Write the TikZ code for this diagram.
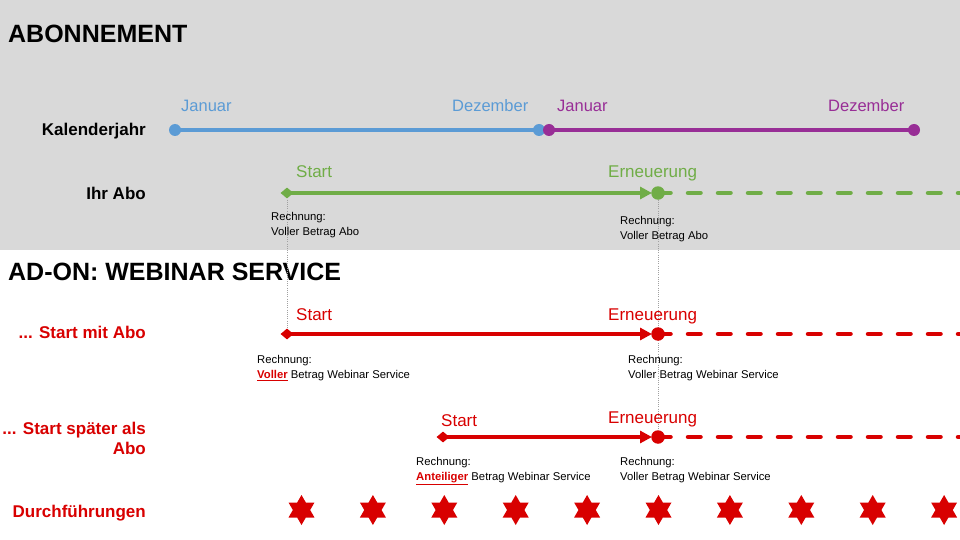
\documentclass[tikz,border=0pt]{standalone}
\usepackage{fontspec}
\setmainfont{Liberation Sans}
\usetikzlibrary{arrows.meta,shapes.geometric}
\definecolor{bg}{HTML}{D9D9D9}
\definecolor{blu}{HTML}{5B9BD5}
\definecolor{pur}{HTML}{982E96}
\definecolor{grn}{HTML}{70AD47}
\definecolor{rd}{HTML}{D80000}
\definecolor{dotg}{HTML}{A0A0A0}
\begin{document}
\begin{tikzpicture}[x=1pt,y=-1pt,
  hdr/.style={font=\fontsize{25}{30}\selectfont\bfseries, anchor=base west, inner sep=0},
  rowlbl/.style={font=\fontsize{17}{20}\selectfont\bfseries, anchor=base east, inner sep=0, align=right},
  mon/.style={font=\fontsize{16.5}{20}\selectfont, anchor=base west, inner sep=0},
  evt/.style={font=\fontsize{17}{20}\selectfont, anchor=base west, inner sep=0},
  note/.style={font=\fontsize{11.3}{15}\selectfont, anchor=north west, inner sep=0, align=left},
  tl/.style={line width=4.5pt},
  dot/.style={circle, fill, inner sep=0, minimum size=12pt},
  endc/.style={circle, fill, inner sep=0, minimum size=13.5pt},
  dia/.style={diamond, fill, inner sep=0, minimum width=13pt, minimum height=11pt},
  dsh/.style={line width=4.5pt, line cap=round, dash pattern=on 12.5pt off 17.5pt},
  guide/.style={dotg, line width=0.8pt, dash pattern=on 1pt off 1.2pt},
  arr/.style={tl, -{Triangle[length=12pt,width=12pt]}},
  hexstar/.pic={\fill[rd] (90:15) -- (120:8.66) -- (150:15) -- (180:8.66) -- (210:15) -- (240:8.66) -- (270:15) -- (300:8.66) -- (330:15) -- (0:8.66) -- (30:15) -- (60:8.66) -- cycle;},
]
\useasboundingbox (0,0) rectangle (960,540);
\fill[bg] (0,0) rectangle (960,250);

% headers
\node[hdr] (h1) at (8,43) {ABONNEMENT};
\node[hdr] (h2) at (8,280) {AD-ON: WEBINAR SERVICE};

% row labels
\node[rowlbl] (lk) at (146,136) {Kalenderjahr};
\node[rowlbl] (la) at (146,200) {Ihr Abo};
\node[rowlbl,rd] (l1) at (146,338) {... Start mit Abo};
\node[rowlbl,rd,anchor=north east] (l2) at (146,421.5) {... Start später als\\Abo};
\node[rowlbl,rd] (ld) at (146,517) {Durchführungen};

% coordinates
\coordinate (b1) at (175,130);
\coordinate (b2) at (539,130);
\coordinate (p1) at (549,130);
\coordinate (p2) at (914,130);
\coordinate (gs) at (287,193);
\coordinate (ge) at (658,193);
\coordinate (gx) at (960,193);
\coordinate (rs1) at (287,334);
\coordinate (re1) at (658,334);
\coordinate (rx1) at (960,334);
\coordinate (rs2) at (443,437);
\coordinate (re2) at (658,437);
\coordinate (rx2) at (960,437);

% guides
\draw[guide] (gs) -- (rs1);
\draw[guide] (ge) -- (re2);

% calendar
\draw[tl,blu] (b1) -- (b2);
\draw[tl,pur] (p1) -- (p2);
\node[dot,blu] (db1) at (b1) {};
\node[dot,blu] (db2) at (b2) {};
\node[dot,pur] (dp1) at (p1) {};
\node[dot,pur] (dp2) at (p2) {};
\node[mon,blu] (m1) at (181,112) {Januar};
\node[mon,blu] (m2) at (452,112) {Dezember};
\node[mon,pur] (m3) at (557,112) {Januar};
\node[mon,pur] (m4) at (828,112) {Dezember};

% Ihr Abo
\draw[dsh,grn] (ge) -- (gx);
\draw[arr,grn] (gs) -- ([xshift=-6pt]ge);
\node[dia,grn] (dgs) at (gs) {};
\node[endc,grn] (dge) at (ge) {};
\node[evt,grn] (eg1) at (296,178) {Start};
\node[evt,grn] (eg2) at (608,178) {Erneuerung};
\node[note] (ng1) at (271,212) {Rechnung:\\Voller Betrag Abo};
\node[note] (ng2) at (620,216) {Rechnung:\\Voller Betrag Abo};

% Start mit Abo
\draw[dsh,rd] (re1) -- (rx1);
\draw[arr,rd] (rs1) -- ([xshift=-6pt]re1);
\node[dia,rd] (drs1) at (rs1) {};
\node[endc,rd] (dre1) at (re1) {};
\node[evt,rd] (er1) at (296,320) {Start};
\node[evt,rd] (er2) at (608,320) {Erneuerung};
\node[note] (nr1) at (257,355) {Rechnung:\\{\color{rd}\bfseries\underline{Voller}} Betrag Webinar Service};
\node[note] (nr2) at (628,355) {Rechnung:\\Voller Betrag Webinar Service};

% Start spaeter
\draw[dsh,rd] (re2) -- (rx2);
\draw[arr,rd] (rs2) -- ([xshift=-6pt]re2);
\node[dia,rd] (drs2) at (rs2) {};
\node[endc,rd] (dre2) at (re2) {};
\node[evt,rd] (es1) at (441,426) {Start};
\node[evt,rd] (es2) at (608,423) {Erneuerung};
\node[note] (ns1) at (416,457) {Rechnung:\\{\color{rd}\bfseries\underline{Anteiliger}} Betrag Webinar Service};
\node[note] (ns2) at (620,457) {Rechnung:\\Voller Betrag Webinar Service};

% Durchfuehrungen
\foreach \i in {0,...,9} \pic at (301.5+71.4*\i,510) {hexstar};
\end{tikzpicture}
\end{document}
